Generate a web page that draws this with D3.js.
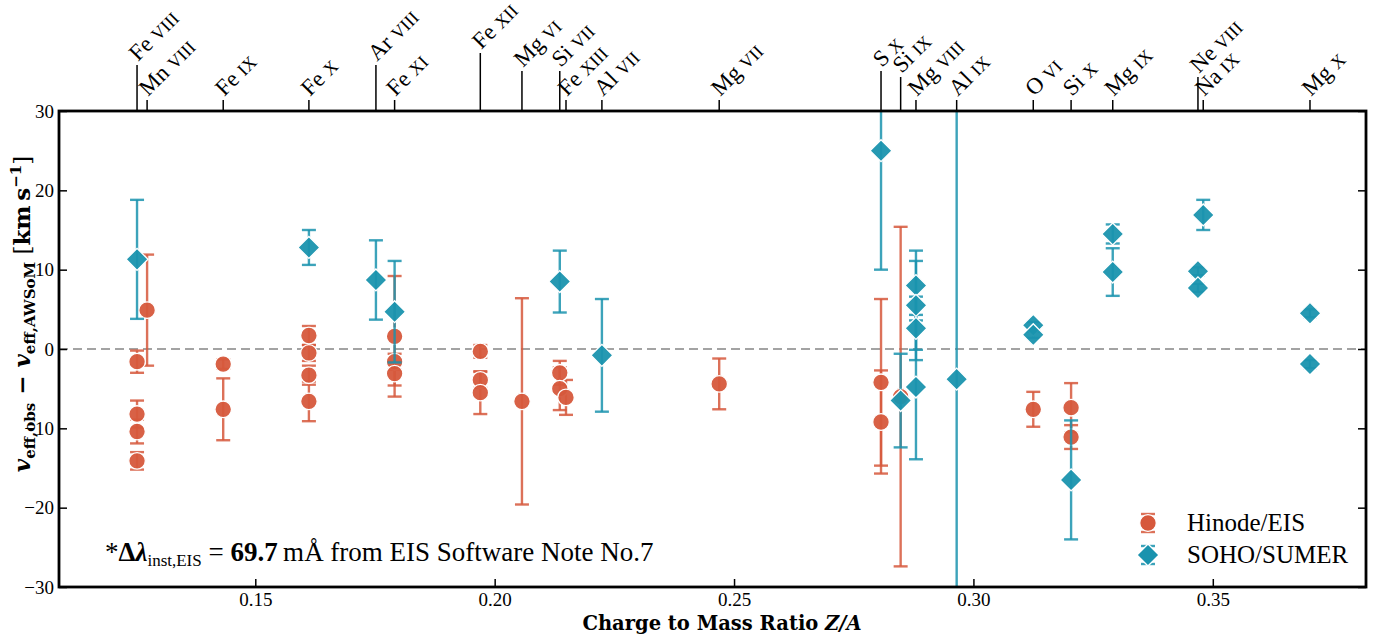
<!DOCTYPE html>
<html>
<head>
<meta charset="utf-8">
<script src="https://cdn.jsdelivr.net/npm/d3@7"></script>
<style>
  body { margin: 0; background: #fff; }
  svg { font-family: 'Liberation Serif', 'Times New Roman', serif; }
</style>
</head>
<body>
<div id="chart"></div>
<script>
// ions on the top axis (name, charge-to-mass ratio)
const ionNames = ['Fe VIII', 'Mn VIII', 'Fe IX', 'Fe X', 'Ar VIII', 'Fe XI', 'Fe XII', 'Mg VI',
    'Si VII', 'Fe XIII', 'Al VII', 'Mg VII', 'S X', 'Si IX', 'Mg VIII', 'Al IX', 'O VI', 'Si X',
    'Mg IX', 'Ne VIII', 'Na IX', 'Mg X'];
const ionZA = [0.1253, 0.1274, 0.1433, 0.1612, 0.1752, 0.1791, 0.1970, 0.2057,
    0.2136, 0.2149, 0.2224, 0.2469, 0.2807, 0.2848, 0.2880, 0.2965, 0.3125, 0.3204,
    0.3291, 0.3469, 0.3480, 0.3703];

// Hinode/EIS
const eisX = [0.1253, 0.1253, 0.1253, 0.1253, 0.1274, 0.1433, 0.1433, 0.1612, 0.1612, 0.1612, 0.1612,
    0.1791, 0.1791, 0.1791, 0.1970, 0.1970, 0.1970, 0.2057, 0.2136, 0.2136, 0.2149, 0.2469,
    0.2807, 0.2807, 0.2848, 0.3125, 0.3204, 0.3204];
const eisY = [-1.6, -8.2, -10.4, -14.1, 4.9, -1.9, -7.6, 1.7, -0.5, -3.3, -6.6,
    1.6, -1.6, -3.1, -0.3, -3.9, -5.5, -6.6, -3.0, -5.0, -6.1, -4.4,
    -4.2, -9.2, -6.0, -7.6, -7.4, -11.1];
const eisErr = [1.4, 1.7, 1.5, 1.1, 7.0, 0.6, 3.9, 1.2, 1.0, 1.2, 2.5,
    7.6, 1.0, 1.5, 0.8, 1.0, 2.7, 13.0, 1.5, 2.7, 2.2, 3.2,
    10.5, 6.5, 21.4, 2.2, 3.1, 1.5];

// SOHO/SUMER
const sumerX = [0.1253, 0.1612, 0.1752, 0.1791, 0.2136, 0.2224, 0.2807, 0.2848,
    0.2880, 0.2880, 0.2880, 0.2880, 0.2965, 0.3125, 0.3125, 0.3204, 0.3291, 0.3291,
    0.3469, 0.3469, 0.3480, 0.3703, 0.3703];
const sumerY = [11.3, 12.8, 8.7, 4.7, 8.5, -0.8, 25.0, -6.5,
    8.0, 5.5, 2.6, -4.8, -3.8, 3.0, 1.8, -16.5, 14.5, 9.7,
    9.8, 7.7, 16.9, 4.5, -1.9];
const sumerErr = [7.5, 2.2, 5.0, 6.4, 3.9, 7.1, 15.0, 5.9,
    4.4, 5.6, 4.0, 9.1, 60.0, 0.4, 0.4, 7.5, 1.2, 3.0,
    0.5, 0.5, 1.9, 0.5, 0.5];

const yTicks = [-30, -20, -10, 0, 10, 20, 30];
const xTicks = [0.15, 0.20, 0.25, 0.30, 0.35];

// style
const red = '#d6583c';
const blue = '#1a93ae';
const serif = "'Liberation Serif', serif";
const longTicks = {'Fe VIII': 46, 'Ar VIII': 46, 'Fe XII': 58, 'Mg VI': 40, 'Si VII': 40,
    'S X': 40, 'Si IX': 34, 'Ne VIII': 34};

const W = 1382, H = 636;
const margin = {top: 111, right: 16, bottom: 49, left: 59};
const width = W - margin.left - margin.right;
const height = H - margin.top - margin.bottom;

const svg = d3.select('#chart').append('svg')
    .attr('width', W)
    .attr('height', H);

const chart = svg.append('g')
    .attr('transform', `translate(${margin.left},${margin.top})`);

const x = d3.scaleLinear().domain([0.1090, 0.3820]).range([0, width]);
const y = d3.scaleLinear().domain([-30, 30]).range([height, 0]);

svg.append('defs').append('clipPath').attr('id', 'plot-clip')
    .append('rect').attr('width', width).attr('height', height);

// zero line
chart.append('line')
    .attr('x1', 0).attr('x2', width)
    .attr('y1', y(0)).attr('y2', y(0))
    .attr('stroke', '#a3a3a3')
    .attr('stroke-width', 2)
    .attr('stroke-dasharray', '9,5');

const plot = chart.append('g').attr('clip-path', 'url(#plot-clip)');

function markerPath(shape) {
    return shape === 'circle'
        ? d3.symbol().type(d3.symbolCircle).size(Math.PI * 8.3 * 8.3)
        : d3.symbol().type(d3.symbolSquare).size(15.5 * 15.5);
}

function drawSeries(xs, ys, errs, color, shape) {
    const pts = xs.map((d, i) => ({x: d, y: ys[i], e: errs[i]}));
    const eb = plot.append('g')
        .attr('stroke', color)
        .attr('stroke-opacity', 0.85)
        .attr('stroke-width', 2.4);
    pts.forEach(p => {
        const cx = x(p.x);
        eb.append('line')
            .attr('x1', cx).attr('x2', cx)
            .attr('y1', y(p.y - p.e)).attr('y2', y(p.y + p.e));
        [p.y - p.e, p.y + p.e].forEach(v => {
            eb.append('line')
                .attr('x1', cx - 7).attr('x2', cx + 7)
                .attr('y1', y(v)).attr('y2', y(v));
        });
    });
    plot.append('g').selectAll('path')
        .data(pts)
        .join('path')
        .attr('d', markerPath(shape))
        .attr('transform', d => `translate(${x(d.x)},${y(d.y)})` + (shape === 'circle' ? '' : ' rotate(45)'))
        .attr('fill', color)
        .attr('fill-opacity', 0.95)
        .attr('stroke', '#fff')
        .attr('stroke-width', 1.3);
}

drawSeries(eisX, eisY, eisErr, red, 'circle');
drawSeries(sumerX, sumerY, sumerErr, blue, 'diamond');

// frame
chart.append('rect')
    .attr('width', width).attr('height', height)
    .attr('fill', 'none')
    .attr('stroke', '#000')
    .attr('stroke-width', 2.8);

// ticks on both sides, pointing inward
const yAxisL = d3.axisLeft(y).tickValues(yTicks).tickSizeInner(-8).tickSizeOuter(0).tickPadding(5)
    .tickFormat(d => String(d).replace('-', '\u2212'));
const yAxisR = d3.axisRight(y).tickValues(yTicks).tickSizeInner(-8).tickSizeOuter(0).tickFormat('');
const xAxisB = d3.axisBottom(x).tickValues(xTicks).tickSizeInner(-8).tickSizeOuter(0).tickPadding(6)
    .tickFormat(d3.format('.2f'));

function styleAxis(g) {
    g.attr('font-family', serif).attr('font-size', 19);
    g.select('.domain').remove();
    g.selectAll('.tick line').attr('stroke', '#000').attr('stroke-width', 1.5);
    g.selectAll('.tick text').attr('fill', '#000');
}

chart.append('g').call(yAxisL).call(styleAxis);
chart.append('g').attr('transform', `translate(${width},0)`).call(yAxisR).call(styleAxis);
chart.append('g').attr('transform', `translate(0,${height})`).call(xAxisB).call(styleAxis);

// top ion axis, labels at 45 degrees
const ionG = chart.append('g').attr('font-family', serif);
ionNames.forEach((name, i) => {
    const px = x(ionZA[i]);
    const len = longTicks[name] || 11;
    ionG.append('line')
        .attr('x1', px).attr('x2', px)
        .attr('y1', 0).attr('y2', -len)
        .attr('stroke', '#000').attr('stroke-width', 1.5);
    const parts = name.split(' ');
    const lg = ionG.append('g')
        .attr('transform', `translate(${px + 1},${-len - 3})`);
    const t = lg.append('text')
        .attr('transform', 'rotate(-45)')
        .attr('font-size', 23);
    t.append('tspan').text(parts[0] + ' ');
    t.append('tspan').attr('font-size', 18).text(parts[1]);
});

// axis titles
svg.append('text')
    .attr('x', 722).attr('y', 630)
    .attr('text-anchor', 'middle')
    .attr('font-family', 'DejaVu Serif')
    .attr('font-size', 19.5)
    .attr('font-weight', 'bold')
    .call(t => {
        t.append('tspan').text('Charge to Mass Ratio ');
        t.append('tspan').attr('font-style', 'italic').text('Z/A');
    });

const yl = svg.append('text')
    .attr('transform', 'translate(30,314) rotate(-90)')
    .attr('text-anchor', 'middle')
    .attr('font-family', 'DejaVu Serif')
    .attr('font-size', 23)
    .attr('font-weight', 'bold');
yl.append('tspan').attr('font-style', 'italic').text('v');
yl.append('tspan').attr('font-size', 15).attr('dy', 5).text('eff,obs');
yl.append('tspan').attr('dy', -5).text(' \u2212 ');
yl.append('tspan').attr('font-style', 'italic').text('v');
yl.append('tspan').attr('font-size', 15).attr('dy', 5).text('eff,AWSoM');
yl.append('tspan').attr('dy', -5).attr('font-weight', 'normal').text(' [');
yl.append('tspan').text('km\u2009s');
yl.append('tspan').attr('font-size', 15).attr('dy', -9).text('\u22121');
yl.append('tspan').attr('dy', 9).attr('font-weight', 'normal').text(']');

// annotation
const ann = svg.append('text')
    .attr('x', 105).attr('y', 561)
    .attr('font-family', serif)
    .attr('font-size', 27);
ann.append('tspan').text('*');
ann.append('tspan').attr('font-weight', 'bold').text('\u0394');
ann.append('tspan').attr('font-weight', 'bold').attr('font-style', 'italic').text('\u03bb');
ann.append('tspan').attr('font-size', 17).attr('dy', 5).text('inst,EIS');
ann.append('tspan').attr('dy', -5).text(' = ');
ann.append('tspan').attr('font-weight', 'bold').text('69.7');
ann.append('tspan').text('\u2009mÅ from EIS Software Note No.7');

// legend
const leg = svg.append('g');
const legItems = [
    {label: 'Hinode/EIS', color: red, shape: 'circle', cy: 523},
    {label: 'SOHO/SUMER', color: blue, shape: 'diamond', cy: 555}
];
legItems.forEach(it => {
    const g = leg.append('g').attr('transform', `translate(1148,${it.cy})`);
    g.append('line').attr('y1', -9).attr('y2', 9).attr('stroke', it.color).attr('stroke-width', 2.4).attr('stroke-opacity', 0.85);
    [-9, 9].forEach(v => g.append('line').attr('x1', -7).attr('x2', 7).attr('y1', v).attr('y2', v)
        .attr('stroke', it.color).attr('stroke-width', 2.4).attr('stroke-opacity', 0.85));
    g.append('path').attr('d', markerPath(it.shape))
        .attr('transform', it.shape === 'circle' ? '' : 'rotate(45)')
        .attr('fill', it.color).attr('stroke', '#fff').attr('stroke-width', 1.3);
    leg.append('text')
        .attr('x', 1187).attr('y', it.cy + 8)
        .attr('font-family', serif)
        .attr('font-size', 25)
        .text(it.label);
});
</script>
</body>
</html>
